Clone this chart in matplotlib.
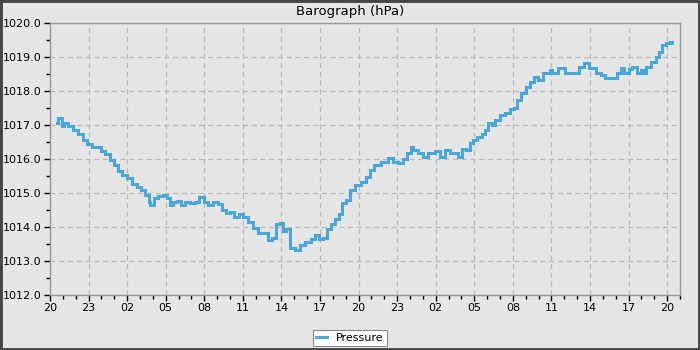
import matplotlib
matplotlib.use("Agg")
import matplotlib.pyplot as plt
from matplotlib.patches import Rectangle
from matplotlib.ticker import MultipleLocator, FixedLocator

# hours since 20:00 on first day
hours = [0.54, 0.62, 0.93, 1.09, 1.40, 1.79, 2.18, 2.56, 2.87, 3.26, 3.65, 3.96, 4.27, 4.66,
         4.97, 5.28, 5.59, 5.98, 6.37, 6.76, 7.07, 7.38, 7.69, 7.77, 8.08, 8.39, 8.78, 9.09,
         9.32, 9.56, 9.87, 10.18, 10.49, 10.88, 11.27, 11.58, 11.97, 12.28, 12.67, 13.05,
         13.36, 13.68, 13.99, 14.30, 14.69, 15.00, 15.38, 15.80, 16.19, 16.58, 16.96, 17.30,
         17.61, 17.87, 18.13, 18.39, 18.65, 19.04, 19.43, 19.81, 20.28, 20.59, 20.93, 21.24,
         21.57, 21.83, 22.14, 22.48, 22.74, 23.05, 23.31, 23.70, 24.22, 24.61, 24.92, 25.17,
         25.77, 26.26, 26.65, 27.04, 27.43, 27.74, 28.05, 28.21, 28.59, 28.98, 29.37, 29.91,
         30.30, 30.69, 31.08, 31.47, 31.70, 32.01, 32.32, 32.63, 32.87, 33.18, 33.57, 33.80,
         34.03, 34.34, 34.58, 34.97, 35.35, 35.74, 36.05, 36.36, 36.67, 37.06, 37.30, 37.61,
         37.92, 38.31, 38.85, 39.08, 39.55, 40.02, 40.56, 41.18, 41.57, 41.96, 42.50, 42.89,
         43.20, 43.82, 44.13, 44.44, 44.68, 45.07, 45.30, 45.69, 46.00, 46.23, 46.39, 46.78,
         47.16, 47.40, 47.63, 47.94, 48.25, 48.41]
pressure = [1017.06, 1017.20, 1016.97, 1017.06, 1016.97, 1016.85, 1016.74, 1016.56, 1016.44,
            1016.35, 1016.35, 1016.24, 1016.15, 1015.97, 1015.82, 1015.65, 1015.53, 1015.44,
            1015.26, 1015.18, 1015.09, 1014.94, 1014.74, 1014.65, 1014.85, 1014.91, 1014.94,
            1014.85, 1014.65, 1014.74, 1014.76, 1014.65, 1014.74, 1014.70, 1014.74, 1014.88,
            1014.74, 1014.65, 1014.74, 1014.68, 1014.50, 1014.41, 1014.44, 1014.29, 1014.38,
            1014.29, 1014.15, 1013.97, 1013.82, 1013.82, 1013.62, 1013.68, 1014.09, 1014.12,
            1013.88, 1013.94, 1013.38, 1013.32, 1013.47, 1013.56, 1013.65, 1013.76, 1013.65,
            1013.68, 1013.94, 1014.09, 1014.24, 1014.38, 1014.71, 1014.79, 1015.09, 1015.24,
            1015.32, 1015.47, 1015.68, 1015.82, 1015.91, 1016.03, 1015.91, 1015.88, 1016.00,
            1016.18, 1016.35, 1016.26, 1016.18, 1016.06, 1016.18, 1016.24, 1016.06, 1016.26,
            1016.18, 1016.18, 1016.06, 1016.29, 1016.26, 1016.47, 1016.56, 1016.65, 1016.74,
            1016.85, 1017.06, 1017.00, 1017.15, 1017.29, 1017.35, 1017.47, 1017.50, 1017.74,
            1017.94, 1018.12, 1018.26, 1018.41, 1018.32, 1018.53, 1018.62, 1018.53, 1018.68,
            1018.53, 1018.53, 1018.71, 1018.82, 1018.68, 1018.53, 1018.47, 1018.38, 1018.38,
            1018.53, 1018.68, 1018.53, 1018.65, 1018.71, 1018.53, 1018.62, 1018.53, 1018.71,
            1018.85, 1019.00, 1019.15, 1019.35, 1019.41, 1019.44, 1019.41]

tick_hours = list(range(0, 49, 3))
tick_labels = ["20", "23", "02", "05", "08", "11", "14", "17", "20",
               "23", "02", "05", "08", "11", "14", "17", "20"]
y_ticks = [1012.0, 1013.0, 1014.0, 1015.0, 1016.0, 1017.0, 1018.0, 1019.0, 1020.0]

bg = "#e6e6e6"
line_color = "#4aa8d8"

plt.rcParams['font.family'] = ['DejaVu Sans']
fig = plt.figure(figsize=(7, 3.5), dpi=100, facecolor=bg)
ax = fig.add_axes([50/700, 1-295/350, 630/700, 272/350])
ax.set_facecolor(bg)

ax.plot(hours, pressure, color=line_color, linewidth=2.2, drawstyle="steps-post",
        label="Pressure", solid_joinstyle="miter")

ax.set_xlim(0, 49)
ax.set_ylim(1012, 1020)
ax.xaxis.set_major_locator(FixedLocator(tick_hours))
ax.set_xticklabels(tick_labels)
ax.xaxis.set_minor_locator(MultipleLocator(1))
ax.set_yticks(y_ticks)
ax.set_yticklabels([f"{v:.1f}" for v in y_ticks])
ax.yaxis.set_minor_locator(MultipleLocator(0.5))

ax.tick_params(axis="both", which="major", labelsize=8, length=4, width=1, color="black",
               pad=2, labelcolor="black")
ax.tick_params(axis="both", which="minor", length=3, width=1, color="black")

for s in ax.spines.values():
    s.set_color("#999999")
    s.set_linewidth(1)

ax.grid(True, which="major", color="#bbbbbb", linestyle=(0, (4, 3)), linewidth=0.9)
ax.set_axisbelow(True)

fig.text(0.5, 1-11/350, "Barograph (hPa)", ha="center", va="center", fontsize=9.5)

leg = fig.legend(loc="center", bbox_to_anchor=(350/700, 1-338/350), fontsize=8, frameon=True,
                 fancybox=False, edgecolor="#888888", facecolor="white", framealpha=1,
                 handlelength=1.0, handletextpad=0.8, borderpad=0.3)
leg.get_frame().set_linewidth(0.8)

fig.patches.append(Rectangle((0, 0), 1, 1, transform=fig.transFigure, fill=False,
                             edgecolor="#454545", linewidth=3.5, zorder=10))

fig.savefig("out.png", dpi=100, facecolor=bg)
